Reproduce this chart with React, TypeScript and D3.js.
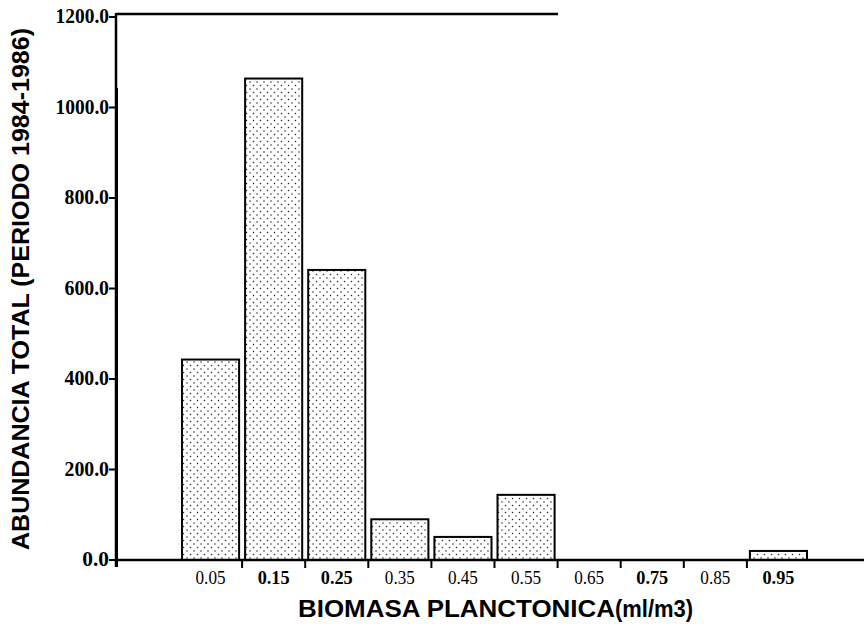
import * as d3 from 'd3';

// bins of plankton biomass (ml/m3), labelled by their centre
const binLabels = ['0.05', '0.15', '0.25', '0.35', '0.45', '0.55', '0.65', '0.75', '0.85', '0.95'];
const binCenters = [0.05, 0.15, 0.25, 0.35, 0.45, 0.55, 0.65, 0.75, 0.85, 0.95];
// total abundance per bin (period 1984-1986)
const abundance = [443, 1064, 641, 90, 51, 144, 0, 0, 0, 20];
const yTicks = [0, 200, 400, 600, 800, 1000, 1200];
const xTickValues = [0.1, 0.2, 0.3, 0.4, 0.5, 0.6, 0.7, 0.8, 0.9];

const yTitle = 'ABUNDANCIA TOTAL (PERIODO 1984-1986)';
const xTitleMain = 'BIOMASA PLANCTONICA';
const xTitleUnit = '(ml/m3)';

const W = 864;
const H = 624;
const binWidth = 0.1;

export default function App() {
  const x = d3.scaleLinear().domain([0, 1]).range([179, 810]);
  const y = d3.scaleLinear().domain([0, 1200]).range([560, 17]);
  const fmt = d3.format('.1f');
  const axisX = 116;
  const y0 = y(0);
  // the scanned labels printed some values heavier
  const boldTicks = new Set(['0.15', '0.25', '0.75', '0.95']);

  return (
    <svg
      width={W}
      height={H}
      style={{ position: 'absolute', left: 0, top: 0, background: '#fff' }}
    >
      <defs>
        <pattern id="dots" width={7} height={7} patternUnits="userSpaceOnUse">
          <rect width={7} height={7} fill="#fff" />
          <circle cx={1.5} cy={1.5} r={0.75} fill="#222" />
          <circle cx={5} cy={5} r={0.75} fill="#222" />
        </pattern>
      </defs>

      {/* bars */}
      {binCenters.map((c, i) => {
        const v = abundance[i];
        if (v <= 0) return null;
        const x0 = x(c - binWidth / 2) + 3;
        const x1 = x(c + binWidth / 2) - 3;
        return (
          <rect
            key={binLabels[i]}
            x={x0}
            y={y(v)}
            width={x1 - x0}
            height={y0 - y(v)}
            fill="url(#dots)"
            stroke="#000"
            strokeWidth={2}
          />
        );
      })}

      {/* frame: top line, y axis, x axis */}
      <line x1={axisX} x2={558} y1={14} y2={14} stroke="#000" strokeWidth={2.5} />
      <line x1={axisX} x2={axisX} y1={13} y2={567} stroke="#000" strokeWidth={2.5} />
      <line x1={axisX + 1} x2={axisX + 1} y1={88} y2={567} stroke="#000" strokeWidth={2} />
      <line x1={axisX} x2={W} y1={y0} y2={y0} stroke="#000" strokeWidth={2.5} />

      {/* y ticks */}
      {yTicks.map(t => (
        <g key={t} transform={`translate(0,${y(t)})`}>
          <line x1={axisX - 7} x2={axisX} stroke="#000" strokeWidth={2} />
          <text
            x={axisX - 7}
            y={6}
            textAnchor="end"
            fontFamily="'Liberation Serif', serif"
            fontWeight="bold"
            fontSize={20}
            textLength={fmt(t).length * 8.9}
            lengthAdjust="spacingAndGlyphs"
          >
            {fmt(t)}
          </text>
        </g>
      ))}

      {/* x ticks */}
      {xTickValues.map(t => (
        <line key={t} x1={x(t)} x2={x(t)} y1={y0} y2={y0 + 8} stroke="#000" strokeWidth={2} />
      ))}
      {binLabels.map((l, i) => (
        <text
          key={l}
          x={x(binCenters[i])}
          y={584}
          textAnchor="middle"
          fontFamily="'Liberation Serif', serif"
          fontWeight={boldTicks.has(l) ? 'bold' : 'normal'}
          fontSize={18}
          textLength={boldTicks.has(l) ? 32 : 30}
          lengthAdjust="spacingAndGlyphs"
        >
          {l}
        </text>
      ))}

      {/* axis titles */}
      <text
        transform="translate(29,289) rotate(-90)"
        textAnchor="middle"
        fontFamily="'Liberation Sans', Arial, sans-serif"
        fontWeight="bold"
        fontSize={24}
        textLength={522}
        lengthAdjust="spacingAndGlyphs"
      >
        {yTitle}
      </text>
      <text
        x={298}
        y={617}
        fontFamily="'Liberation Sans', Arial, sans-serif"
        fontWeight="bold"
        fontSize={24}
        textLength={317}
        lengthAdjust="spacingAndGlyphs"
      >
        {xTitleMain}
      </text>
      <text
        x={615}
        y={617}
        fontFamily="'Liberation Sans', Arial, sans-serif"
        fontWeight="bold"
        fontSize={24}
        textLength={78}
        lengthAdjust="spacingAndGlyphs"
      >
        {xTitleUnit}
      </text>
    </svg>
  );
}
